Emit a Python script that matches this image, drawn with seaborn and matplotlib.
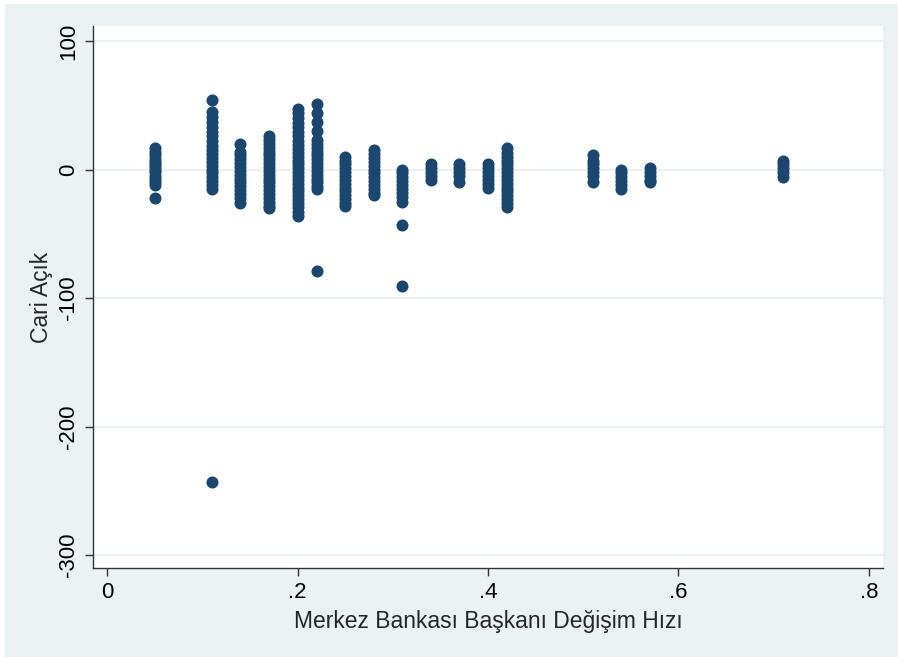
import matplotlib
matplotlib.use("Agg")
import matplotlib.pyplot as plt
from matplotlib.patches import Rectangle
import seaborn as sns
import pandas as pd

# cluster x positions (Merkez Bankası Başkanı Değişim Hızı)
x_values = [0.05, 0.11, 0.14, 0.17, 0.20, 0.22, 0.25, 0.28, 0.31,
            0.34, 0.37, 0.40, 0.42, 0.51, 0.54, 0.57, 0.71]

# Cari Açık values read per cluster
y_005 = [17, 14, 11, 8, 6, 4, 2, 0, -2, -5, -7, -10, -12, -22.5]
y_011 = [54, 45, 41, 37, 33, 29, 26, 22, 18, 15, 12, 9, 6, 3, 0, -3, -6, -9, -12, -15.5, -243]
y_014 = [20, 14, 11, 8, 5, 2, -1, -4, -7, -10, -13, -16, -19, -22, -26]
y_017 = [26, 23, 20, 17, 14, 11, 8, 5, 2, -1, -4, -7, -10, -13, -16, -19, -22, -25, -28, -30]
y_020 = [47, 44, 40, 36, 33, 29, 26, 22, 19, 16, 13, 10, 7, 4, 1, -2, -5, -8, -11, -14,
         -17, -20, -23, -26, -29, -33, -36.5]
y_022 = [51, 44, 37, 30, 23, 20, 17, 14, 11, 8, 5, 2, -1, -4, -7, -10, -13, -15.5, -79]
y_025 = [10, 7, 4, 1, -2, -5, -8, -11, -14, -17, -20, -23, -26, -28]
y_028 = [15, 12, 9, 6, 3, 0, -3, -6, -9, -12, -15, -18, -20]
y_031 = [0, -3, -6, -9, -12, -15, -18, -21, -25, -43.5, -91]
y_034 = [4, 1, -2, -5, -8]
y_037 = [4, 1, -2, -5, -9.5]
y_040 = [4, 1, -2, -5, -8, -11, -14]
y_042 = [16.5, 13, 10, 7, 4, 1, -2, -5, -8, -11, -14, -17, -20, -23, -26, -29]
y_051 = [11, 7, 4, 1, -2, -5, -9.5]
y_054 = [0, -3, -6, -9, -12, -15]
y_057 = [1, -2, -5, -8, -9.5]
y_071 = [7, 4, 1, -2, -5.5]

y_clusters = [y_005, y_011, y_014, y_017, y_020, y_022, y_025, y_028, y_031,
              y_034, y_037, y_040, y_042, y_051, y_054, y_057, y_071]

x_ticks = [0, 0.2, 0.4, 0.6, 0.8]
x_tick_labels = ["0", ".2", ".4", ".6", ".8"]
y_ticks = [-300, -200, -100, 0, 100]
y_tick_labels = ["-300", "-200", "-100", "0", "100"]

rows = []
for xv, ys in zip(x_values, y_clusters):
    for yv in ys:
        rows.append((xv, yv))
df = pd.DataFrame(rows, columns=["x", "y"])

sns.set_style("white")
plt.rcParams["font.family"] = ["Liberation Sans", "DejaVu Sans"]

BG = "#eaf2f3"
NAVY = "#1a476f"

fig = plt.figure(figsize=(8.98, 6.57), dpi=100, facecolor="white")
fig.patches.append(Rectangle((5 / 898, 0), 1 - 5 / 898, 1 - 4 / 657,
                             transform=fig.transFigure, facecolor=BG,
                             edgecolor="none", zorder=-10))
ax = fig.add_axes([93 / 898, 1 - 568 / 657, (883 - 93) / 898, (568 - 26) / 657])
ax.set_facecolor("white")

sns.scatterplot(data=df, x="x", y="y", ax=ax, color=NAVY, s=75, linewidth=0, zorder=3)

ax.set_xlim(-0.0147, 0.8147)
ax.set_ylim(-310.1, 111.7)

ax.set_xticks(x_ticks)
ax.set_xticklabels(x_tick_labels)
ax.set_yticks(y_ticks)
ax.set_yticklabels(y_tick_labels, rotation=90, va="center")

ax.yaxis.grid(True, color=BG, linewidth=1.5, zorder=0)
ax.xaxis.grid(False)

for side in ["top", "right"]:
    ax.spines[side].set_visible(False)
for side in ["left", "bottom"]:
    ax.spines[side].set_visible(True)
    ax.spines[side].set_color("#333333")
    ax.spines[side].set_linewidth(1.0)

ax.tick_params(axis="both", direction="out", length=6, width=1.0, color="#333333",
               labelsize=16, labelcolor="black", pad=4, left=True, bottom=True)

ax.set_xlabel("Merkez Bankası Başkanı Değişim Hızı", fontsize=16.5, labelpad=5)
ax.set_ylabel("Cari Açık", fontsize=16.5, labelpad=4)

fig.savefig("out.png", dpi=100, facecolor="white")
